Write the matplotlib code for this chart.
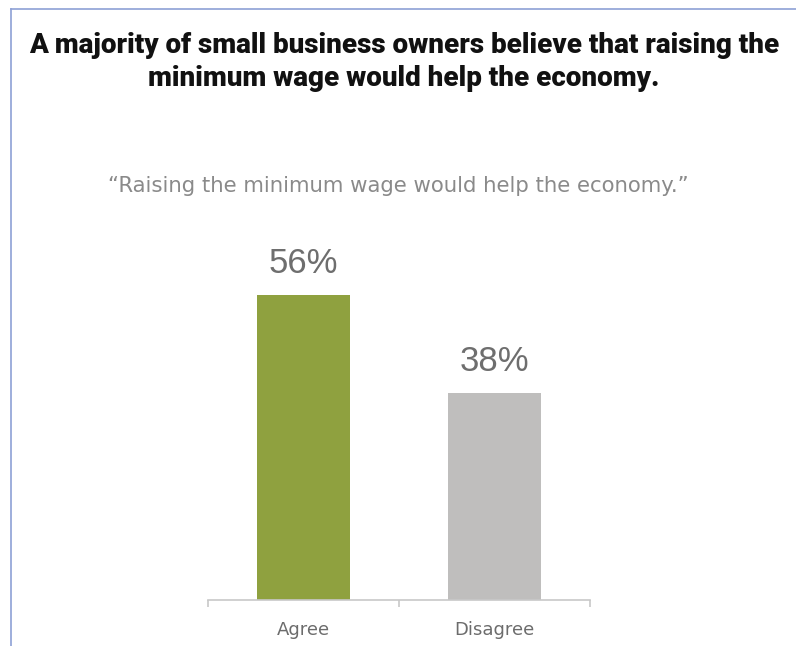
import matplotlib.pyplot as plt
from matplotlib.lines import Line2D

categories = ["Agree", "Disagree"]
values = [56, 38]
labels = ["56%", "38%"]
colors = ["#8fa13f", "#bfbebd"]

title = ("A majority of small business owners believe that raising the\n"
         "minimum wage would help the economy.")
subtitle = "\u201cRaising the minimum wage would help the economy.\u201d"

W, H = 796, 646
fig = plt.figure(figsize=(W / 100, H / 100), dpi=100)

# axes placed in pixel terms: x 208..590, baseline at y=600
ax = fig.add_axes([208 / W, (H - 600) / H, 382 / W, 350 / H])
x = list(range(len(categories)))
ax.bar(x, values, width=0.49, color=colors)
for xi, v, lab in zip(x, values, labels):
    ax.text(xi, v + 5.8, lab, ha="center", va="center", fontsize=25,
            color="#6e6e6e", family="Liberation Sans")

ax.set_xlim(-0.5, 1.5)
ax.set_ylim(0, 350 / 5.45)
ax.set_yticks([])
for s in ["top", "right", "left"]:
    ax.spines[s].set_visible(False)
ax.spines["bottom"].set_color("#c8c8c8")
ax.spines["bottom"].set_linewidth(1.2)
ax.set_xticks(x)
ax.set_xticklabels(categories, fontsize=13, color="#6c6c6c", family="DejaVu Sans")
ax.tick_params(axis="x", which="major", length=0, pad=15)
ax.set_xticks([-0.5, 0.5, 1.5], minor=True)
ax.tick_params(axis="x", which="minor", length=5, color="#c8c8c8", width=1.2)

fig.text(404 / W, 1 - 62 / H, title, ha="center", va="center", fontsize=20,
         fontweight="heavy", family="Roboto", color="#111111", linespacing=1.25)
fig.text(398 / W, 1 - 186 / H, subtitle, ha="center", va="center",
         fontsize=15.3, color="#8a8a8a", family="DejaVu Sans")

# thin blue frame at top and left of the image
fig.add_artist(Line2D([11 / W, 1], [1 - 9 / H, 1 - 9 / H], color="#8ea1d6", lw=1.2))
fig.add_artist(Line2D([11 / W, 11 / W], [0, 1 - 9 / H], color="#8ea1d6", lw=1.2))

fig.savefig("out.png", dpi=100)
